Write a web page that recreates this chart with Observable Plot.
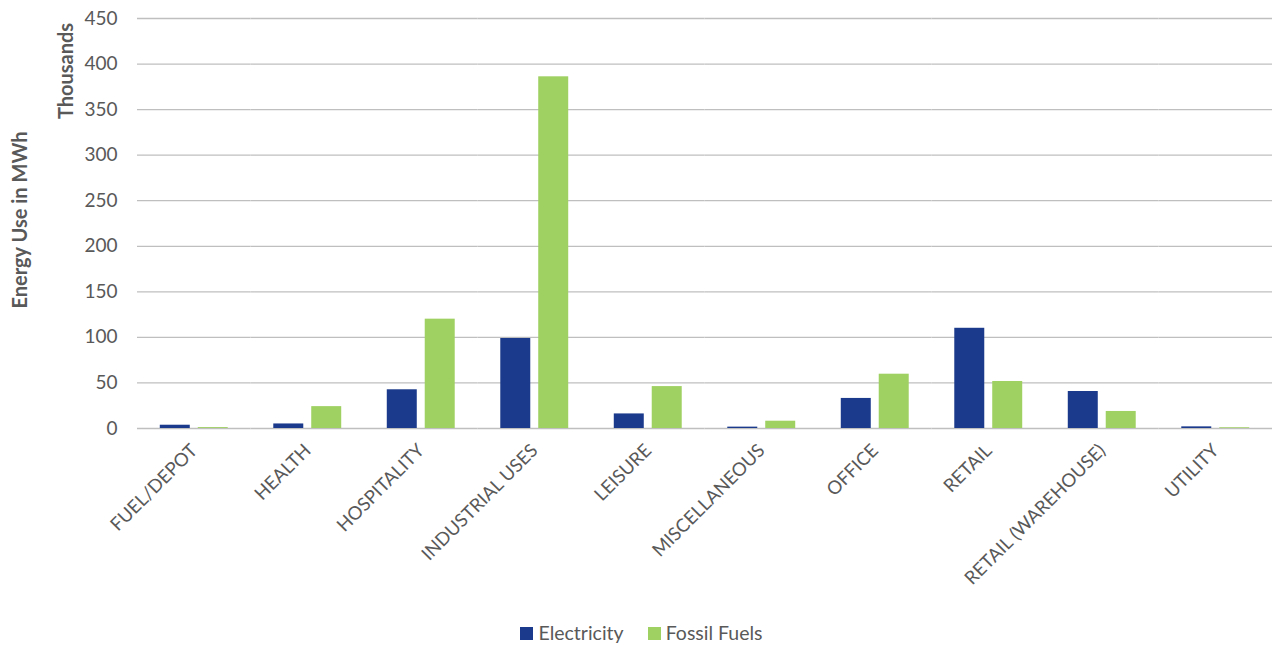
<!DOCTYPE html>
<html><head><meta charset="utf-8">
<script src="https://cdn.jsdelivr.net/npm/d3@7"></script>
<script src="https://cdn.jsdelivr.net/npm/@observablehq/plot@0.6"></script>
<style>
body{margin:0;background:#fff;font-family:Lato,sans-serif;}
#wrap{position:relative;width:1275px;height:646px;overflow:hidden;}
.rot{position:absolute;font-weight:bold;color:#595959;font-size:20px;white-space:nowrap;transform:translate(-50%,-50%) rotate(-90deg);}
#legend{position:absolute;left:0;top:614px;width:1275px;height:36px;display:flex;justify-content:center;align-items:center;gap:24px;color:#595959;font-size:19.5px;padding-left:8px;box-sizing:border-box;}
#legend span.sw{display:inline-block;width:13px;height:13px;margin-right:5px;vertical-align:middle;position:relative;top:-1px;}
</style></head><body>
<div id="wrap">
<div id="chart"></div>
<div class="rot" style="left:19px;top:220px;">Energy Use in MWh</div>
<div class="rot" style="left:65px;top:71px;">Thousands</div>
<div id="legend"></div>
</div>
<script>
const categories = ["FUEL/DEPOT","HEALTH","HOSPITALITY","INDUSTRIAL USES","LEISURE","MISCELLANEOUS","OFFICE","RETAIL","RETAIL (WAREHOUSE)","UTILITY"];
const series = ["Electricity","Fossil Fuels"];
const electricity = [3.6, 5, 42.5, 98.8, 16, 1.5, 33, 110, 40.6, 1.8];
const fossilFuels = [1, 24, 120, 386, 46, 8, 59.6, 51.6, 18.7, 0.8];
const colors = ["#1B3A8C", "#9FD062"];
const yTicks = [0,50,100,150,200,250,300,350,400,450];

const data = [];
categories.forEach((c,i)=>{
  data.push({category:c, series:series[0], value:electricity[i]});
  data.push({category:c, series:series[1], value:fossilFuels[i]});
});

const chart = Plot.plot({
  width: 1275,
  height: 610,
  marginTop: 18,
  marginBottom: 182,
  marginLeft: 137,
  marginRight: 3,
  style: {fontFamily: "Lato, sans-serif", fontSize: "19px", color: "#595959", background: "white"},
  fx: {domain: categories, padding: 0, round: false},
  x: {domain: series, paddingInner: 0.21, paddingOuter: 0.6, round: false, axis: null},
  y: {domain: [0, 450]},
  color: {domain: series, range: colors},
  marks: [
    Plot.gridY(yTicks, {stroke: "#BFBFBF", strokeOpacity: 1, strokeWidth: 1.3}),
    Plot.barY(data, {fx: "category", x: "series", y: "value", fill: "series"}),
    Plot.axisY(yTicks, {tickSize: 0, tickPadding: 20, label: null, fontSize: 19}),
    Plot.axisFx({anchor: "bottom", tickSize: 0, tickRotate: -45, tickPadding: 19, label: null, fontSize: 18.5})
  ]
});
document.getElementById("chart").appendChild(chart);

const legend = document.getElementById("legend");
series.forEach((s,i)=>{
  const d = document.createElement("div");
  d.innerHTML = `<span class="sw" style="background:${colors[i]}"></span>${s}`;
  legend.appendChild(d);
});
</script>
</body></html>
